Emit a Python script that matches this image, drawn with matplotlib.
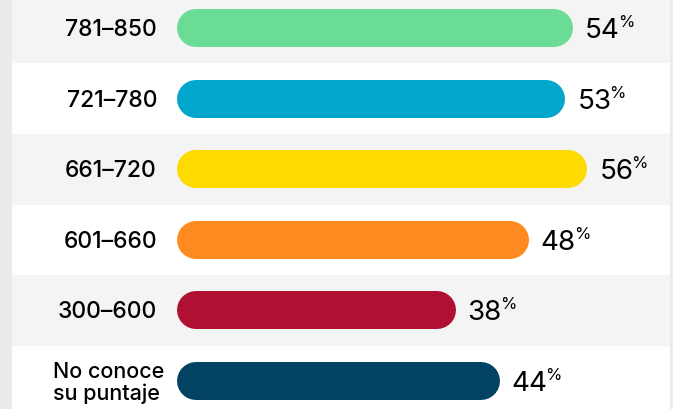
import matplotlib
matplotlib.use("Agg")
import matplotlib.pyplot as plt

# data
categories = ["781–850", "721–780", "661–720", "601–660", "300–600", "No conoce\nsu puntaje"]
values = [54, 53, 56, 48, 38, 44]
colors = ["#6adc95", "#00a6cb", "#fdda00", "#ff8a20", "#b01032", "#024262"]

plt.rcParams["font.family"] = ["Inter", "DejaVu Sans"]

W, H = 673, 409
fig = plt.figure(figsize=(W / 100, H / 100), dpi=100)
fig.patch.set_facecolor("#ebebeb")
ax = fig.add_axes([0, 0, 1, 1])
ax.axis("off")

# pixel scale: 0% at x=177, row centers every 70.6px starting at y=28
px_pct = 7.33
x0 = 177
row_h = 70.6
y0 = 28
ax.set_xlim(-x0 / px_pct, (W - x0) / px_pct)
ax.set_ylim((H - y0) / row_h, -y0 / row_h)

bar_px = 38
r = bar_px / 2 / px_pct  # round cap radius in % units

for i, (cat, v, c) in enumerate(zip(categories, values, colors)):
    ax.axhspan(i - 0.5, i + 0.5, xmin=12 / W, xmax=670 / W,
               color="#f4f4f4" if i % 2 == 0 else "white", zorder=0, lw=0)
    # pill-shaped bar: thick line with round caps
    ax.plot([r, v - r], [i, i], color=c, lw=bar_px * 0.72,
            solid_capstyle="round", zorder=2)

    if "\n" in cat:
        ax.annotate(cat, xy=(0, i), xytext=(-13, -2), textcoords="offset pixels",
                    ha="right", va="center", multialignment="left",
                    fontsize=15.5, fontweight="medium", linespacing=1.1)
    else:
        ax.annotate(cat, xy=(0, i), xytext=(-20, -8), textcoords="offset pixels",
                    ha="right", va="baseline", fontsize=16.5, fontweight="medium")

    num = ax.annotate(str(v), xy=(v, i), xytext=(12, -10), textcoords="offset pixels",
                      ha="left", va="baseline", fontsize=20)
    ax.annotate("%", xy=(1, i), xycoords=(num, "data"), xytext=(-2, 1),
                textcoords="offset pixels", ha="left", va="baseline", fontsize=12)

fig.savefig("out.png", dpi=100, facecolor=fig.get_facecolor())
